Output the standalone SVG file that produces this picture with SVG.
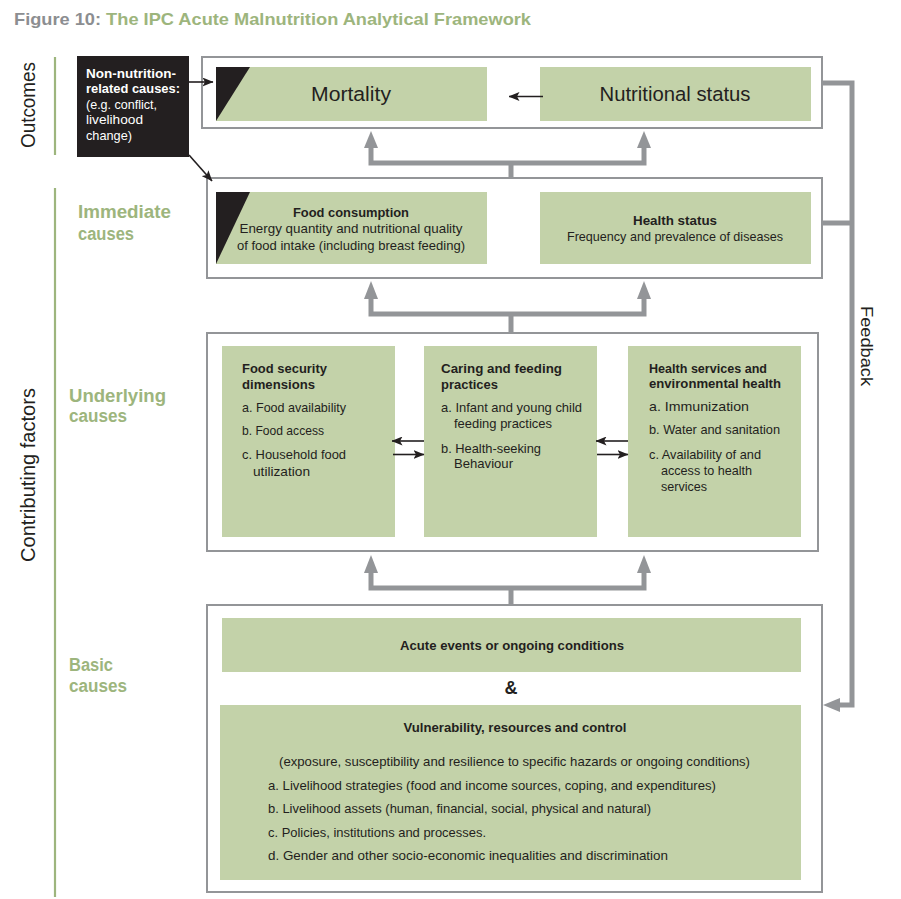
<svg xmlns="http://www.w3.org/2000/svg" width="901" height="899" viewBox="0 0 901 899">
<defs>
<style>
text{font-family:"Liberation Sans",Arial,sans-serif;fill:#231f20}
.cont{fill:#fff;stroke:#939598;stroke-width:2}
.box{fill:#c3d2a9}
.tri{fill:#231f20}
.gline{fill:none;stroke:#939598;stroke-width:5}
.ghead{fill:#939598}
.bline{fill:none;stroke:#231f20;stroke-width:1.6;marker-end:url(#bh)}
.lbl{fill:#9db57d;font-weight:bold;font-size:18px}
.side{font-size:20px}
.big{font-size:20.5px;text-anchor:middle}
.h{font-weight:bold;font-size:13.5px}
.b{font-size:13.2px}
.c{text-anchor:middle}
.w{fill:#fff;font-size:13.5px}
</style>
<marker id="bh" markerUnits="userSpaceOnUse" markerWidth="11" markerHeight="9" viewBox="0 0 11 9" refX="10.5" refY="4.5" orient="auto">
<path d="M0,0 L11,4.5 L0,9 L2.5,4.5 z" fill="#231f20"/>
</marker>
</defs>

<text x="14" y="25" font-weight="bold" font-size="17" textLength="517" lengthAdjust="spacingAndGlyphs"><tspan fill="#8c8e91">Figure 10: </tspan><tspan fill="#9db57d">The IPC Acute Malnutrition Analytical Framework</tspan></text>

<g id="side-labels">
<line x1="55" y1="57" x2="55" y2="155" stroke="#9db57d" stroke-width="2.2"/>
<line x1="55" y1="188" x2="55" y2="897" stroke="#9db57d" stroke-width="2.2"/>
<text class="side" transform="translate(34.5,105) rotate(-90)" text-anchor="middle" textLength="86" lengthAdjust="spacingAndGlyphs">Outcomes</text>
<text class="side" transform="translate(34.5,475) rotate(-90)" text-anchor="middle" textLength="174" lengthAdjust="spacingAndGlyphs">Contributing factors</text>
<text class="lbl" x="78" y="218" textLength="93" lengthAdjust="spacingAndGlyphs">Immediate</text>
<text class="lbl" x="78" y="240" textLength="56" lengthAdjust="spacingAndGlyphs">causes</text>
<text class="lbl" x="69" y="402" textLength="97" lengthAdjust="spacingAndGlyphs">Underlying</text>
<text class="lbl" x="69" y="422" textLength="58" lengthAdjust="spacingAndGlyphs">causes</text>
<text class="lbl" x="69" y="671" textLength="44" lengthAdjust="spacingAndGlyphs">Basic</text>
<text class="lbl" x="69" y="692" textLength="58" lengthAdjust="spacingAndGlyphs">causes</text>
<text transform="translate(861,346) rotate(90)" font-size="16.5" text-anchor="middle" textLength="80" lengthAdjust="spacingAndGlyphs">Feedback</text>
</g>

<g id="non-nutrition">
<rect x="77" y="56" width="112" height="101" fill="#231f20"/>
<text class="w" x="86" y="78" font-weight="bold" textLength="90" lengthAdjust="spacingAndGlyphs">Non-nutrition-</text>
<text class="w" x="86" y="93" font-weight="bold" textLength="94" lengthAdjust="spacingAndGlyphs">related causes:</text>
<text class="w" x="86" y="108.5" textLength="71" lengthAdjust="spacingAndGlyphs">(e.g. conflict,</text>
<text class="w" x="86" y="124" textLength="57" lengthAdjust="spacingAndGlyphs">livelihood</text>
<text class="w" x="86" y="139.5" textLength="46" lengthAdjust="spacingAndGlyphs">change)</text>
</g>

<g id="outcomes">
<rect class="cont" x="202" y="57" width="620" height="71"/>
</g>
<g id="mortality">
<rect class="box" x="216" y="67" width="271" height="54"/>
<polygon class="tri" points="216,67 250,67 216,121"/>
<text class="big" x="351" y="101" textLength="80" lengthAdjust="spacingAndGlyphs">Mortality</text>
</g>
<g id="nutritional-status">
<rect class="box" x="540" y="67" width="271" height="54"/>
<text class="big" x="675" y="101" textLength="151" lengthAdjust="spacingAndGlyphs">Nutritional status</text>
</g>

<g id="immediate">
<rect class="cont" x="207" y="178" width="615" height="100"/>
</g>
<g id="food-consumption">
<rect class="box" x="216" y="192" width="271" height="72"/>
<polygon class="tri" points="216,192 250,192 216,264"/>
<text class="h c" x="351" y="217" textLength="116" lengthAdjust="spacingAndGlyphs">Food consumption</text>
<text class="b c" x="351" y="233" textLength="223" lengthAdjust="spacingAndGlyphs">Energy quantity and nutritional quality</text>
<text class="b c" x="351" y="249.5" textLength="228" lengthAdjust="spacingAndGlyphs">of food intake (including breast feeding)</text>
</g>
<g id="health-status">
<rect class="box" x="540" y="192" width="271" height="72"/>
<text class="h c" x="675" y="224.5" textLength="84" lengthAdjust="spacingAndGlyphs">Health status</text>
<text class="b c" x="675" y="240.5" textLength="216" lengthAdjust="spacingAndGlyphs">Frequency and prevalence of diseases</text>
</g>

<g id="underlying">
<rect class="cont" x="207" y="333" width="611" height="218"/>
</g>
<g id="food-security">
<rect class="box" x="222" y="346" width="173" height="191"/>
<text class="h" x="242" y="373" textLength="85" lengthAdjust="spacingAndGlyphs">Food security</text>
<text class="h" x="242" y="389" textLength="73" lengthAdjust="spacingAndGlyphs">dimensions</text>
<text class="b" x="242" y="411.5" textLength="104" lengthAdjust="spacingAndGlyphs">a. Food availability</text>
<text class="b" x="242" y="435" textLength="82" lengthAdjust="spacingAndGlyphs">b. Food access</text>
<text class="b" x="242" y="459" textLength="104" lengthAdjust="spacingAndGlyphs">c. Household food</text>
<text class="b" x="253" y="475.5" textLength="57" lengthAdjust="spacingAndGlyphs">utilization</text>
</g>
<g id="caring-feeding">
<rect class="box" x="424" y="346" width="173" height="191"/>
<text class="h" x="441" y="373" textLength="121" lengthAdjust="spacingAndGlyphs">Caring and feeding</text>
<text class="h" x="441" y="389" textLength="57" lengthAdjust="spacingAndGlyphs">practices</text>
<text class="b" x="441" y="411.5" textLength="141" lengthAdjust="spacingAndGlyphs">a. Infant and young child</text>
<text class="b" x="454" y="428" textLength="98" lengthAdjust="spacingAndGlyphs">feeding practices</text>
<text class="b" x="441" y="452.5" textLength="100" lengthAdjust="spacingAndGlyphs">b. Health-seeking</text>
<text class="b" x="454" y="467.5" textLength="59" lengthAdjust="spacingAndGlyphs">Behaviour</text>
</g>
<g id="health-services">
<rect class="box" x="628" y="346" width="173" height="191"/>
<text class="h" x="649" y="372.5" textLength="118" lengthAdjust="spacingAndGlyphs">Health services and</text>
<text class="h" x="649" y="388" textLength="132" lengthAdjust="spacingAndGlyphs">environmental health</text>
<text class="b" x="649" y="411" textLength="100" lengthAdjust="spacingAndGlyphs">a. Immunization</text>
<text class="b" x="649" y="434" textLength="131" lengthAdjust="spacingAndGlyphs">b. Water and sanitation</text>
<text class="b" x="649" y="458.5" textLength="112" lengthAdjust="spacingAndGlyphs">c. Availability of and</text>
<text class="b" x="661" y="475" textLength="91" lengthAdjust="spacingAndGlyphs">access to health</text>
<text class="b" x="661" y="491" textLength="46" lengthAdjust="spacingAndGlyphs">services</text>
</g>

<g id="basic">
<rect class="cont" x="207" y="605" width="615" height="287"/>
<text x="511" y="694" font-weight="bold" font-size="18" text-anchor="middle">&amp;</text>
</g>
<g id="acute-events">
<rect class="box" x="222" y="618" width="579" height="54"/>
<text class="h c" x="512" y="650" textLength="224" lengthAdjust="spacingAndGlyphs">Acute events or ongoing conditions</text>
</g>
<g id="vulnerability">
<rect class="box" x="220" y="705" width="581" height="175"/>
<text class="h c" x="515" y="732" textLength="223" lengthAdjust="spacingAndGlyphs">Vulnerability, resources and control</text>
<text class="b" x="279" y="765.5" textLength="471" lengthAdjust="spacingAndGlyphs">(exposure, susceptibility and resilience to specific hazards or ongoing conditions)</text>
<text class="b" x="268" y="790" textLength="448" lengthAdjust="spacingAndGlyphs">a.  Livelihood strategies (food and income sources, coping, and expenditures)</text>
<text class="b" x="268" y="813" textLength="383" lengthAdjust="spacingAndGlyphs">b.  Livelihood assets (human, financial, social, physical and natural)</text>
<text class="b" x="268" y="836.5" textLength="218" lengthAdjust="spacingAndGlyphs">c.  Policies, institutions and processes.</text>
<text class="b" x="268" y="860" textLength="400" lengthAdjust="spacingAndGlyphs">d.  Gender and other socio-economic inequalities and discrimination</text>
</g>

<g id="connectors">
<path class="gline" d="M371,147 V163 H644 V147 M511,163 V178"/>
<polygon class="ghead" points="364,148 371,131 378,148"/>
<polygon class="ghead" points="637,148 644,131 651,148"/>
<path class="gline" d="M371,298 V314 H644 V298 M511,314 V333"/>
<polygon class="ghead" points="364,299 371,281 378,299"/>
<polygon class="ghead" points="637,299 644,281 651,299"/>
<path class="gline" d="M371,572 V588 H644 V572 M511,588 V605"/>
<polygon class="ghead" points="364,573 371,555 378,573"/>
<polygon class="ghead" points="637,573 644,555 651,573"/>
<path class="gline" d="M822,83 H852 V705 H838 M822,223 H852"/>
<polygon class="ghead" points="823,705 840,698 840,712"/>
<path class="bline" d="M543,96.5 H509"/>
<path class="bline" d="M189,82 H213"/>
<path class="bline" d="M189,155 L212,181"/>
<path class="bline" d="M424,441 H392"/>
<path class="bline" d="M393,454.5 H424"/>
<path class="bline" d="M628,441 H596"/>
<path class="bline" d="M597,454.5 H628"/>
</g>
</svg>
